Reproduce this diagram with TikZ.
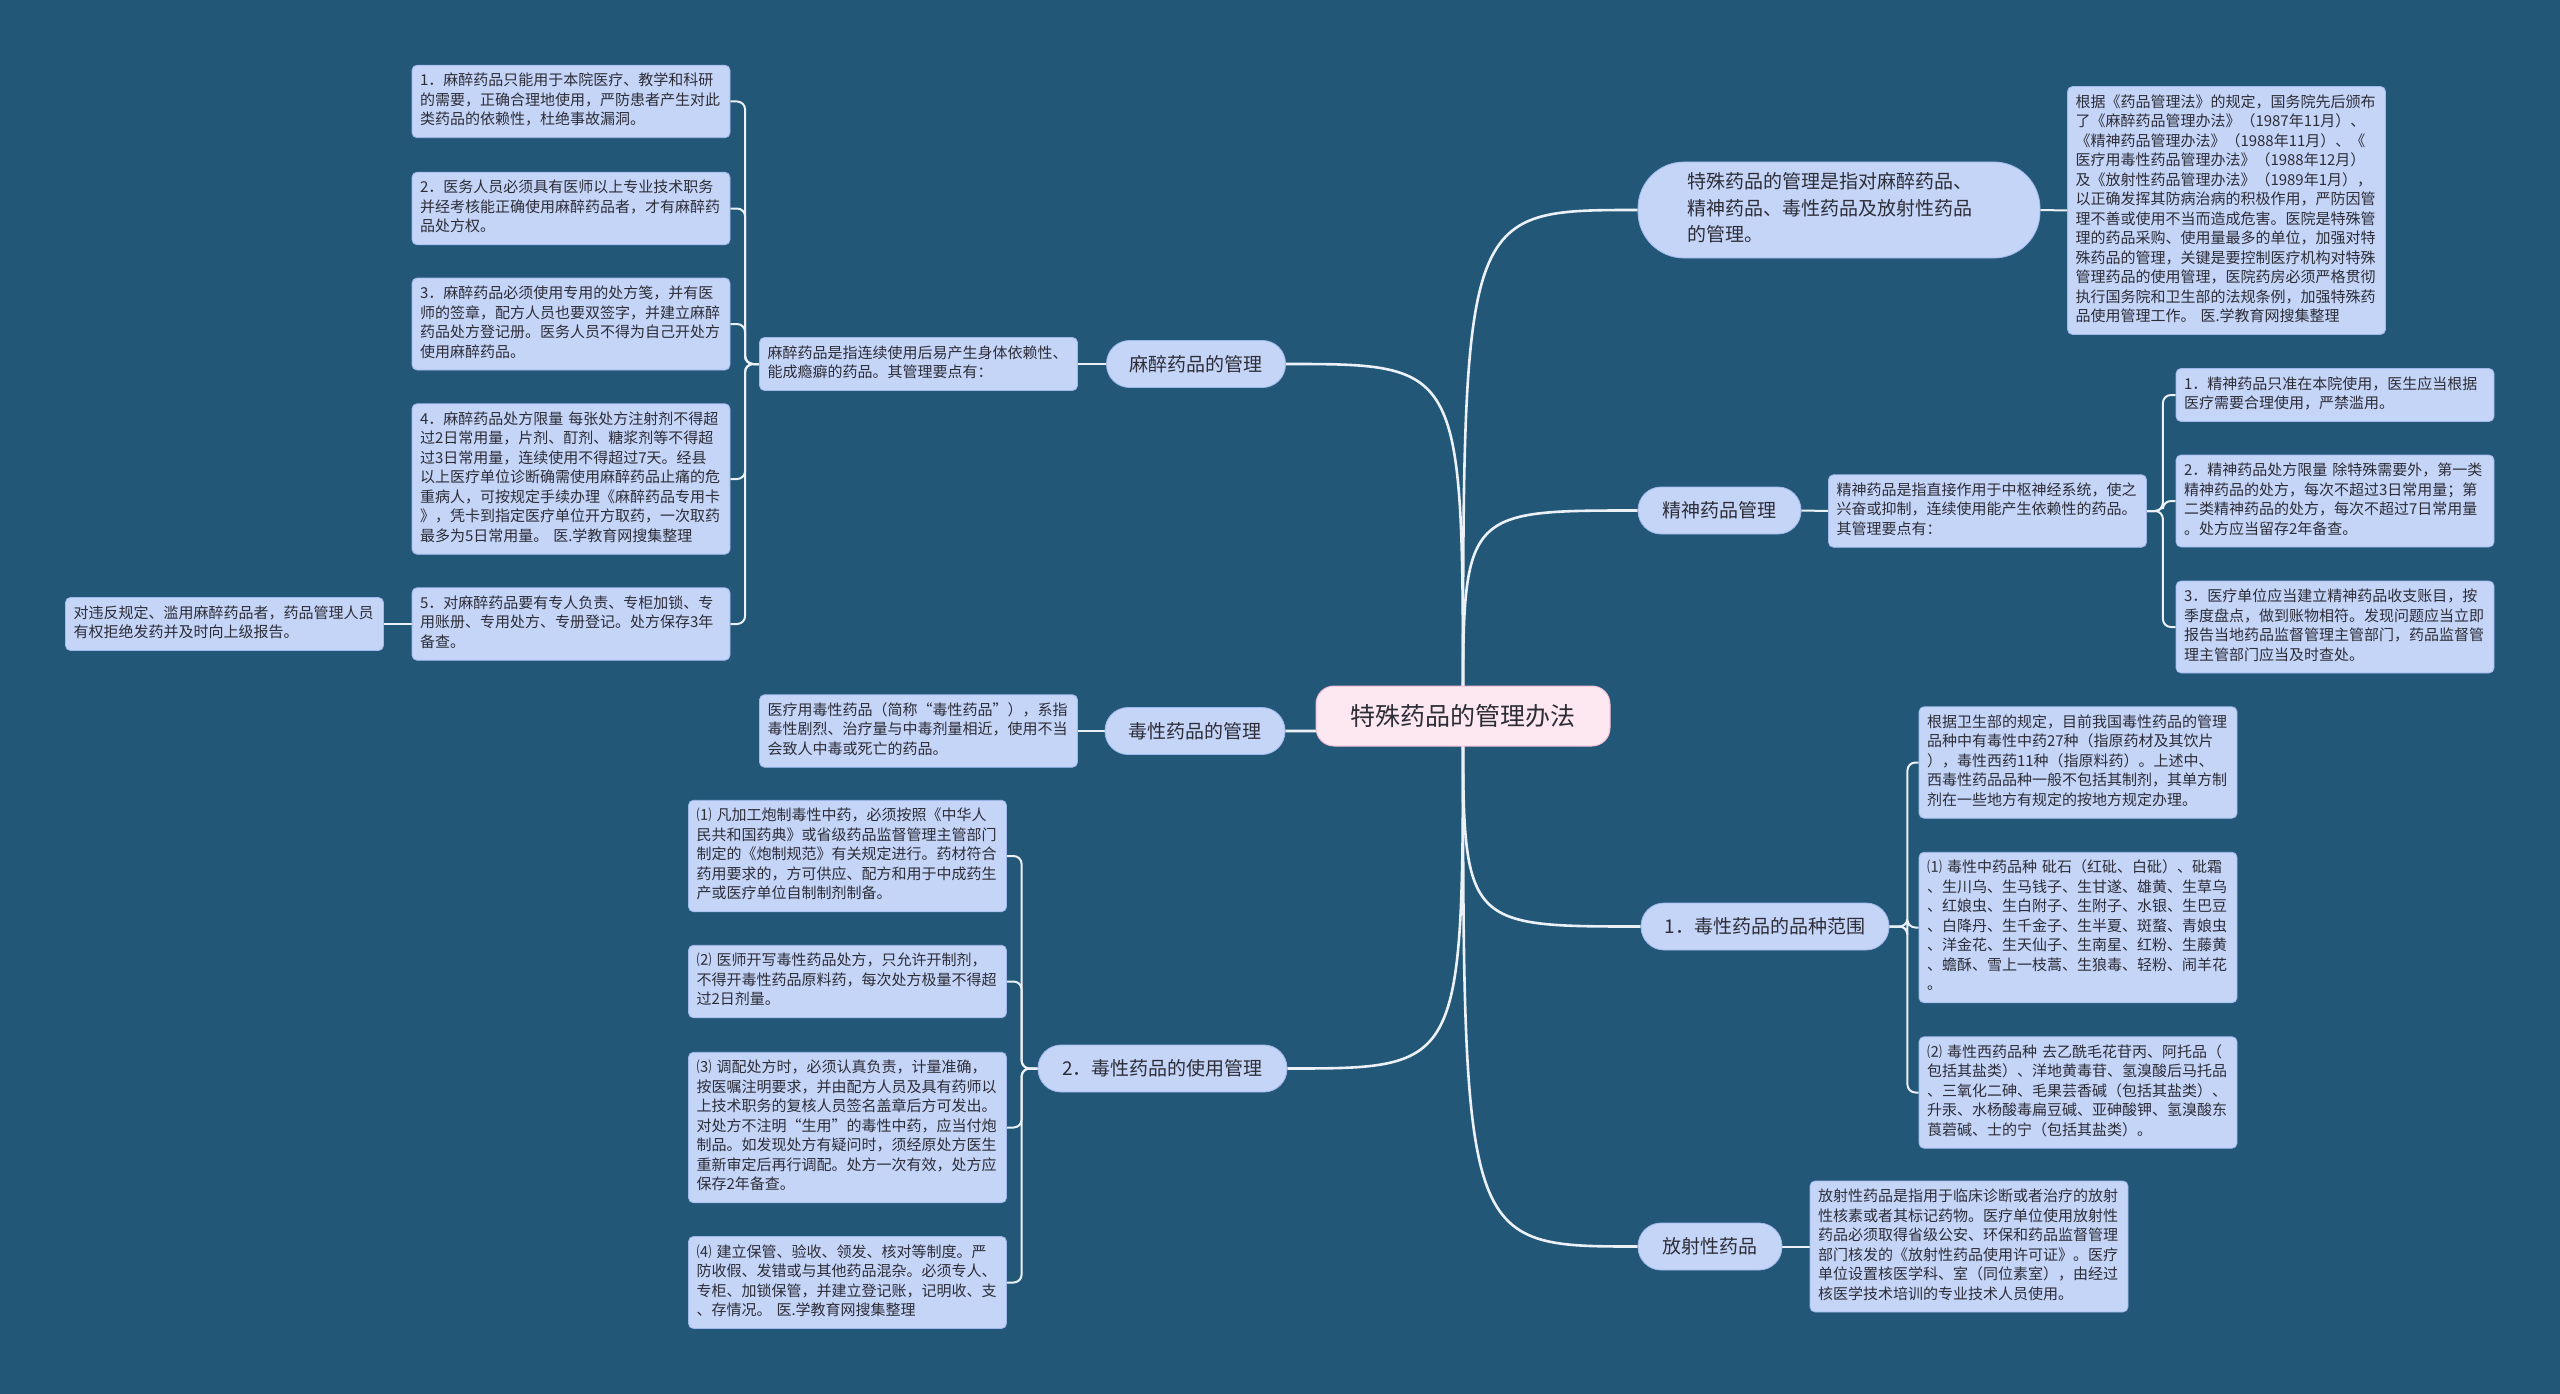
\documentclass[tikz,border=0pt]{standalone}
\usepackage{fontspec}
\setmainfont{Noto Sans CJK SC}
\definecolor{bgc}{RGB}{34,87,120}
\definecolor{boxfill}{RGB}{197,213,248}
\definecolor{boxline}{RGB}{160,184,236}
\definecolor{rootfill}{RGB}{253,232,241}
\definecolor{rootline}{RGB}{240,190,212}
\definecolor{txt}{RGB}{45,45,55}
\definecolor{linec}{RGB}{236,241,247}
\newcommand\leaffont{\fontsize{15}{19.5}\selectfont}
\newcommand\pillfont{\fontsize{19}{26.5}\selectfont}
\newcommand\rootfont{\fontsize{25}{30}\selectfont}
\pgfdeclarelayer{bgl}
\pgfdeclarelayer{edges}
\pgfsetlayers{bgl,edges,main}
\begin{document}
\begin{tikzpicture}[x=1pt,y=-1pt,
  leaf/.style={draw=boxline, fill=boxfill, rounded corners=5pt, line width=0.8pt,
    text width=302pt, inner xsep=8pt, inner ysep=7pt, align=left, font=\leaffont, text=txt,
    execute at begin node=\strut, execute at end node=\strut},
  pill/.style={draw=boxline, fill=boxfill, rounded corners=23pt, line width=0.8pt,
    minimum height=47pt, inner xsep=20pt, font=\pillfont, text=txt},
  rootbox/.style={draw=rootline, fill=rootfill, rounded corners=18pt, line width=1pt,
    minimum width=294pt, minimum height=60pt, font=\rootfont, text=txt},
  mainline/.style={draw=linec, line width=2.6pt},
  bracket/.style={draw=linec, line width=2pt, rounded corners=8pt}
]
\begin{pgfonlayer}{bgl}
\fill[bgc] (0,0) rectangle (2560,1394);
\end{pgfonlayer}
\useasboundingbox (0,0) rectangle (2560,1394);

% root
\node[rootbox] (root) at (1463,716) {特殊药品的管理办法};

% left: mazui
\node[pill, minimum width=179pt] (mz) at (1196,364) {麻醉药品的管理};
\node[leaf] (mzdef) at (918.5,364) {麻醉药品是指连续使用后易产生身体依赖性、\\能成瘾癖的药品。其管理要点有：};
\node[leaf] (m1) at (571,101.5) {1．麻醉药品只能用于本院医疗、教学和科研\\的需要，正确合理地使用，严防患者产生对此\\类药品的依赖性，杜绝事故漏洞。};
\node[leaf] (m2) at (571,208.5) {2．医务人员必须具有医师以上专业技术职务\\并经考核能正确使用麻醉药品者，才有麻醉药\\品处方权。};
\node[leaf] (m3) at (571,324) {3．麻醉药品必须使用专用的处方笺，并有医\\师的签章，配方人员也要双签字，并建立麻醉\\药品处方登记册。医务人员不得为自己开处方\\使用麻醉药品。};
\node[leaf] (m4) at (571,479) {4．麻醉药品处方限量~每张处方注射剂不得超\\过2日常用量，片剂、酊剂、糖浆剂等不得超\\过3日常用量，连续使用不得超过7天。经县\\以上医疗单位诊断确需使用麻醉药品止痛的危\\重病人，可按规定手续办理《麻醉药品专用卡\\》，凭卡到指定医疗单位开方取药，一次取药\\最多为5日常用量。~医.学教育网搜集整理};
\node[leaf] (m5) at (571,624) {5．对麻醉药品要有专人负责、专柜加锁、专\\用账册、专用处方、专册登记。处方保存3年\\备查。};
\node[leaf] (vw) at (224.5,624) {对违反规定、滥用麻醉药品者，药品管理人员\\有权拒绝发药并及时向上级报告。};

% left: duxing
\node[pill, minimum width=180pt] (dx) at (1195,731) {毒性药品的管理};
\node[leaf] (dxdef) at (918.5,731) {医疗用毒性药品（简称“毒性药品”），系指\\毒性剧烈、治疗量与中毒剂量相近，使用不当\\会致人中毒或死亡的药品。};

% left bottom: use
\node[pill, minimum width=249pt] (use) at (1162.5,1068.5) {2．毒性药品的使用管理};
\node[leaf] (u1) at (847.5,856) {⑴~凡加工炮制毒性中药，必须按照《中华人\\民共和国药典》或省级药品监督管理主管部门\\制定的《炮制规范》有关规定进行。药材符合\\药用要求的，方可供应、配方和用于中成药生\\产或医疗单位自制制剂制备。};
\node[leaf] (u2) at (847.5,981.5) {⑵~医师开写毒性药品处方，只允许开制剂，\\不得开毒性药品原料药，每次处方极量不得超\\过2日剂量。};
\node[leaf] (u3) at (847.5,1127.5) {⑶~调配处方时，必须认真负责，计量准确，\\按医嘱注明要求，并由配方人员及具有药师以\\上技术职务的复核人员签名盖章后方可发出。\\对处方不注明“生用”的毒性中药，应当付炮\\制品。如发现处方有疑问时，须经原处方医生\\重新审定后再行调配。处方一次有效，处方应\\保存2年备查。};
\node[leaf] (u4) at (847.5,1282.5) {⑷~建立保管、验收、领发、核对等制度。严\\防收假、发错或与其他药品混杂。必须专人、\\专柜、加锁保管，并建立登记账，记明收、支\\、存情况。~医.学教育网搜集整理};

% right top
\node[pill, minimum width=402pt, minimum height=96pt, rounded corners=46pt, align=left,
  text width=304pt, inner xsep=49pt, inner ysep=8pt,
  execute at begin node=\strut, execute at end node=\strut] (ts) at (1839,210)
  {特殊药品的管理是指对麻醉药品、\\精神药品、毒性药品及放射性药品\\的管理。};
\node[leaf] (rt) at (2226.5,210.5) {根据《药品管理法》的规定，国务院先后颁布\\了《麻醉药品管理办法》（1987年11月）、\\《精神药品管理办法》（1988年11月）、《\\医疗用毒性药品管理办法》（1988年12月）\\及《放射性药品管理办法》（1989年1月），\\以正确发挥其防病治病的积极作用，严防因管\\理不善或使用不当而造成危害。医院是特殊管\\理的药品采购、使用量最多的单位，加强对特\\殊药品的管理，关键是要控制医疗机构对特殊\\管理药品的使用管理，医院药房必须严格贯彻\\执行国务院和卫生部的法规条例，加强特殊药\\品使用管理工作。~医.学教育网搜集整理};

% right: jingshen
\node[pill, minimum width=163pt] (js) at (1719.5,510.5) {精神药品管理};
\node[leaf] (jsdef) at (1987.5,511) {精神药品是指直接作用于中枢神经系统，使之\\兴奋或抑制，连续使用能产生依赖性的药品。\\其管理要点有：};
\node[leaf] (js1) at (2335,395) {1．精神药品只准在本院使用，医生应当根据\\医疗需要合理使用，严禁滥用。};
\node[leaf] (js2) at (2335,501) {2．精神药品处方限量~除特殊需要外，第一类\\精神药品的处方，每次不超过3日常用量；第\\二类精神药品的处方，每次不超过7日常用量\\。处方应当留存2年备查。};
\node[leaf] (js3) at (2335,627) {3．医疗单位应当建立精神药品收支账目，按\\季度盘点，做到账物相符。发现问题应当立即\\报告当地药品监督管理主管部门，药品监督管\\理主管部门应当及时查处。};

% right: pinzhong
\node[pill, minimum width=248pt] (dp) at (1765,926.5) {1．毒性药品的品种范围};
\node[leaf] (d0) at (2078,762.5) {根据卫生部的规定，目前我国毒性药品的管理\\品种中有毒性中药27种（指原药材及其饮片\\），毒性西药11种（指原料药）。上述中、\\西毒性药品品种一般不包括其制剂，其单方制\\剂在一些地方有规定的按地方规定办理。};
\node[leaf] (d1) at (2078,927.5) {⑴~毒性中药品种~砒石（红砒、白砒）、砒霜\\、生川乌、生马钱子、生甘遂、雄黄、生草乌\\、红娘虫、生白附子、生附子、水银、生巴豆\\、白降丹、生千金子、生半夏、斑蝥、青娘虫\\、洋金花、生天仙子、生南星、红粉、生藤黄\\、蟾酥、雪上一枝蒿、生狼毒、轻粉、闹羊花\\。};
\node[leaf] (d2) at (2078,1092.5) {⑵~毒性西药品种~去乙酰毛花苷丙、阿托品（\\包括其盐类）、洋地黄毒苷、氢溴酸后马托品\\、三氧化二砷、毛果芸香碱（包括其盐类）、\\升汞、水杨酸毒扁豆碱、亚砷酸钾、氢溴酸东\\莨菪碱、士的宁（包括其盐类）。};

% right: fangshe
\node[pill, minimum width=144pt] (fsp) at (1710,1246.5) {放射性药品};
\node[leaf] (fs) at (1969,1246.5) {放射性药品是指用于临床诊断或者治疗的放射\\性核素或者其标记药物。医疗单位使用放射性\\药品必须取得省级公安、环保和药品监督管理\\部门核发的《放射性药品使用许可证》。医疗\\单位设置核医学科、室（同位素室），由经过\\核医学技术培训的专业技术人员使用。};

\begin{pgfonlayer}{edges}
\foreach \t in {mz,dx,use}
  \draw[mainline] (root.center) .. controls (root.center |- \t.east) .. (\t.east);
\foreach \t in {ts,js,dp,fsp}
  \draw[mainline] (root.center) .. controls (root.center |- \t.west) .. (\t.west);
\draw[bracket] (mzdef.east) -- (mz.west);
\draw[bracket] (dxdef.east) -- (dx.west);
\foreach \c in {m1,m2,m3,m4,m5}
  \draw[bracket] (mzdef.west) -- ++(-14,0) |- (\c.east);
\draw[bracket] (m5.west) -- (vw.east);
\foreach \c in {u1,u2,u3,u4}
  \draw[bracket] (use.west) -- ++(-16,0) |- (\c.east);
\draw[bracket] (ts.east) -- (rt.west);
\draw[bracket] (js.east) -- (jsdef.west);
\foreach \c in {js1,js2,js3}
  \draw[bracket] (jsdef.east) -- ++(16,0) |- (\c.west);
\foreach \c in {d0,d1,d2}
  \draw[bracket] (dp.east) -- ++(18,0) |- (\c.west);
\draw[bracket] (fsp.east) -- (fs.west);
\end{pgfonlayer}
\end{tikzpicture}
\end{document}
